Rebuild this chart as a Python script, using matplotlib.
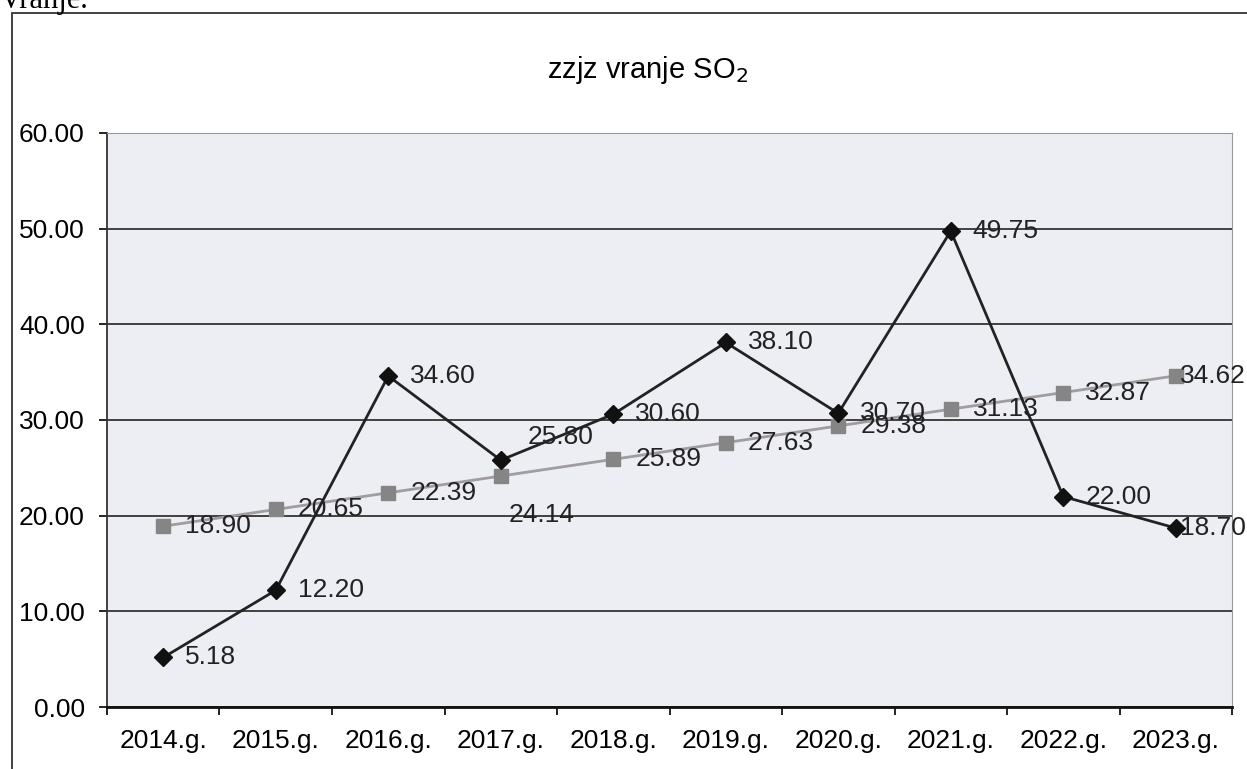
import matplotlib.pyplot as plt
from matplotlib.patches import Rectangle

years = ["2014.g.", "2015.g.", "2016.g.", "2017.g.", "2018.g.",
         "2019.g.", "2020.g.", "2021.g.", "2022.g.", "2023.g."]
so2 = [5.18, 12.20, 34.60, 25.80, 30.60, 38.10, 30.70, 49.75, 22.00, 18.70]
trend = [18.90, 20.65, 22.39, 24.14, 25.89, 27.63, 29.38, 31.13, 32.87, 34.62]
yticks = [0, 10, 20, 30, 40, 50, 60]

plt.rcParams['font.family'] = ['Liberation Sans', 'DejaVu Sans']
FS = 19

fig = plt.figure(figsize=(12.47, 7.69), dpi=100)
ax = fig.add_axes([0.0858, 0.0806, 0.9022, 0.7465])
ax.set_facecolor('#eceef4')

# outer chart frame and the cut-off text above it
fig.patches.append(Rectangle((12 / 1247, -0.1), 1.2, 1 - 13 / 769 + 0.1,
                             transform=fig.transFigure, fill=False,
                             edgecolor='#333333', lw=1.3))
fig.text(0.0, 1 - 8 / 769, "Vranje.", family='Liberation Serif',
         fontsize=22, ha='left', va='baseline')

x = list(range(len(years)))
ax.plot(x, trend, color='#a09ca0', lw=2, marker='s', markersize=10,
        markerfacecolor='#858585', markeredgecolor='#858585', zorder=3)
ax.plot(x, so2, color='#222222', lw=2, marker='D', markersize=9,
        markerfacecolor='#111111', markeredgecolor='#111111', zorder=4)

# data labels (Excel style, right of the point)
def label(i, v, dx=22, dy=0):
    ax.annotate(f"{v:.2f}", (i, v), xytext=(dx, dy), textcoords='offset pixels',
                ha='left', va='center', fontsize=FS, color='#222222', zorder=5)

for i, v in enumerate(so2):
    if i == 3:
        label(i, v, 27, 23)
    elif i == len(so2) - 1:
        label(i, v, 4, 0)
    else:
        label(i, v)
for i, v in enumerate(trend):
    if i == 3:
        ax.annotate(f"{v:.2f}", (i, v), xytext=(41, -39), textcoords='offset pixels',
                    ha='center', va='center', fontsize=FS, color='#222222', zorder=5)
    elif i == len(trend) - 1:
        label(i, v, 4, 0)
    else:
        label(i, v)

ax.set_xlim(-0.5, len(years) - 0.5)
ax.set_ylim(0, 60)
ax.set_yticks(yticks)
ax.set_yticklabels([f"{t:.2f}" for t in yticks])
ax.yaxis.grid(True, color='#333333', lw=1.3)
ax.set_axisbelow(True)

ax.set_xticks(x)
ax.set_xticklabels(years)
ax.set_xticks([i - 0.5 for i in range(len(years) + 1)], minor=True)
ax.tick_params(axis='x', which='major', length=0, pad=16, labelsize=FS)
ax.tick_params(axis='x', which='minor', length=6, width=1.2, direction='out')
ax.tick_params(axis='y', length=6, width=1.2, pad=10, labelsize=FS)

ax.spines['left'].set_color('#333333')
ax.spines['left'].set_linewidth(1.3)
ax.spines['bottom'].set_color('#111111')
ax.spines['bottom'].set_linewidth(2)
ax.spines['top'].set_color('#999999')
ax.spines['right'].set_color('#999999')

fig.text(0.519, 1 - 70 / 769, "zzjz vranje SO$_2$", ha='center', va='center',
         fontsize=21)

fig.savefig("out.png", dpi=100)
